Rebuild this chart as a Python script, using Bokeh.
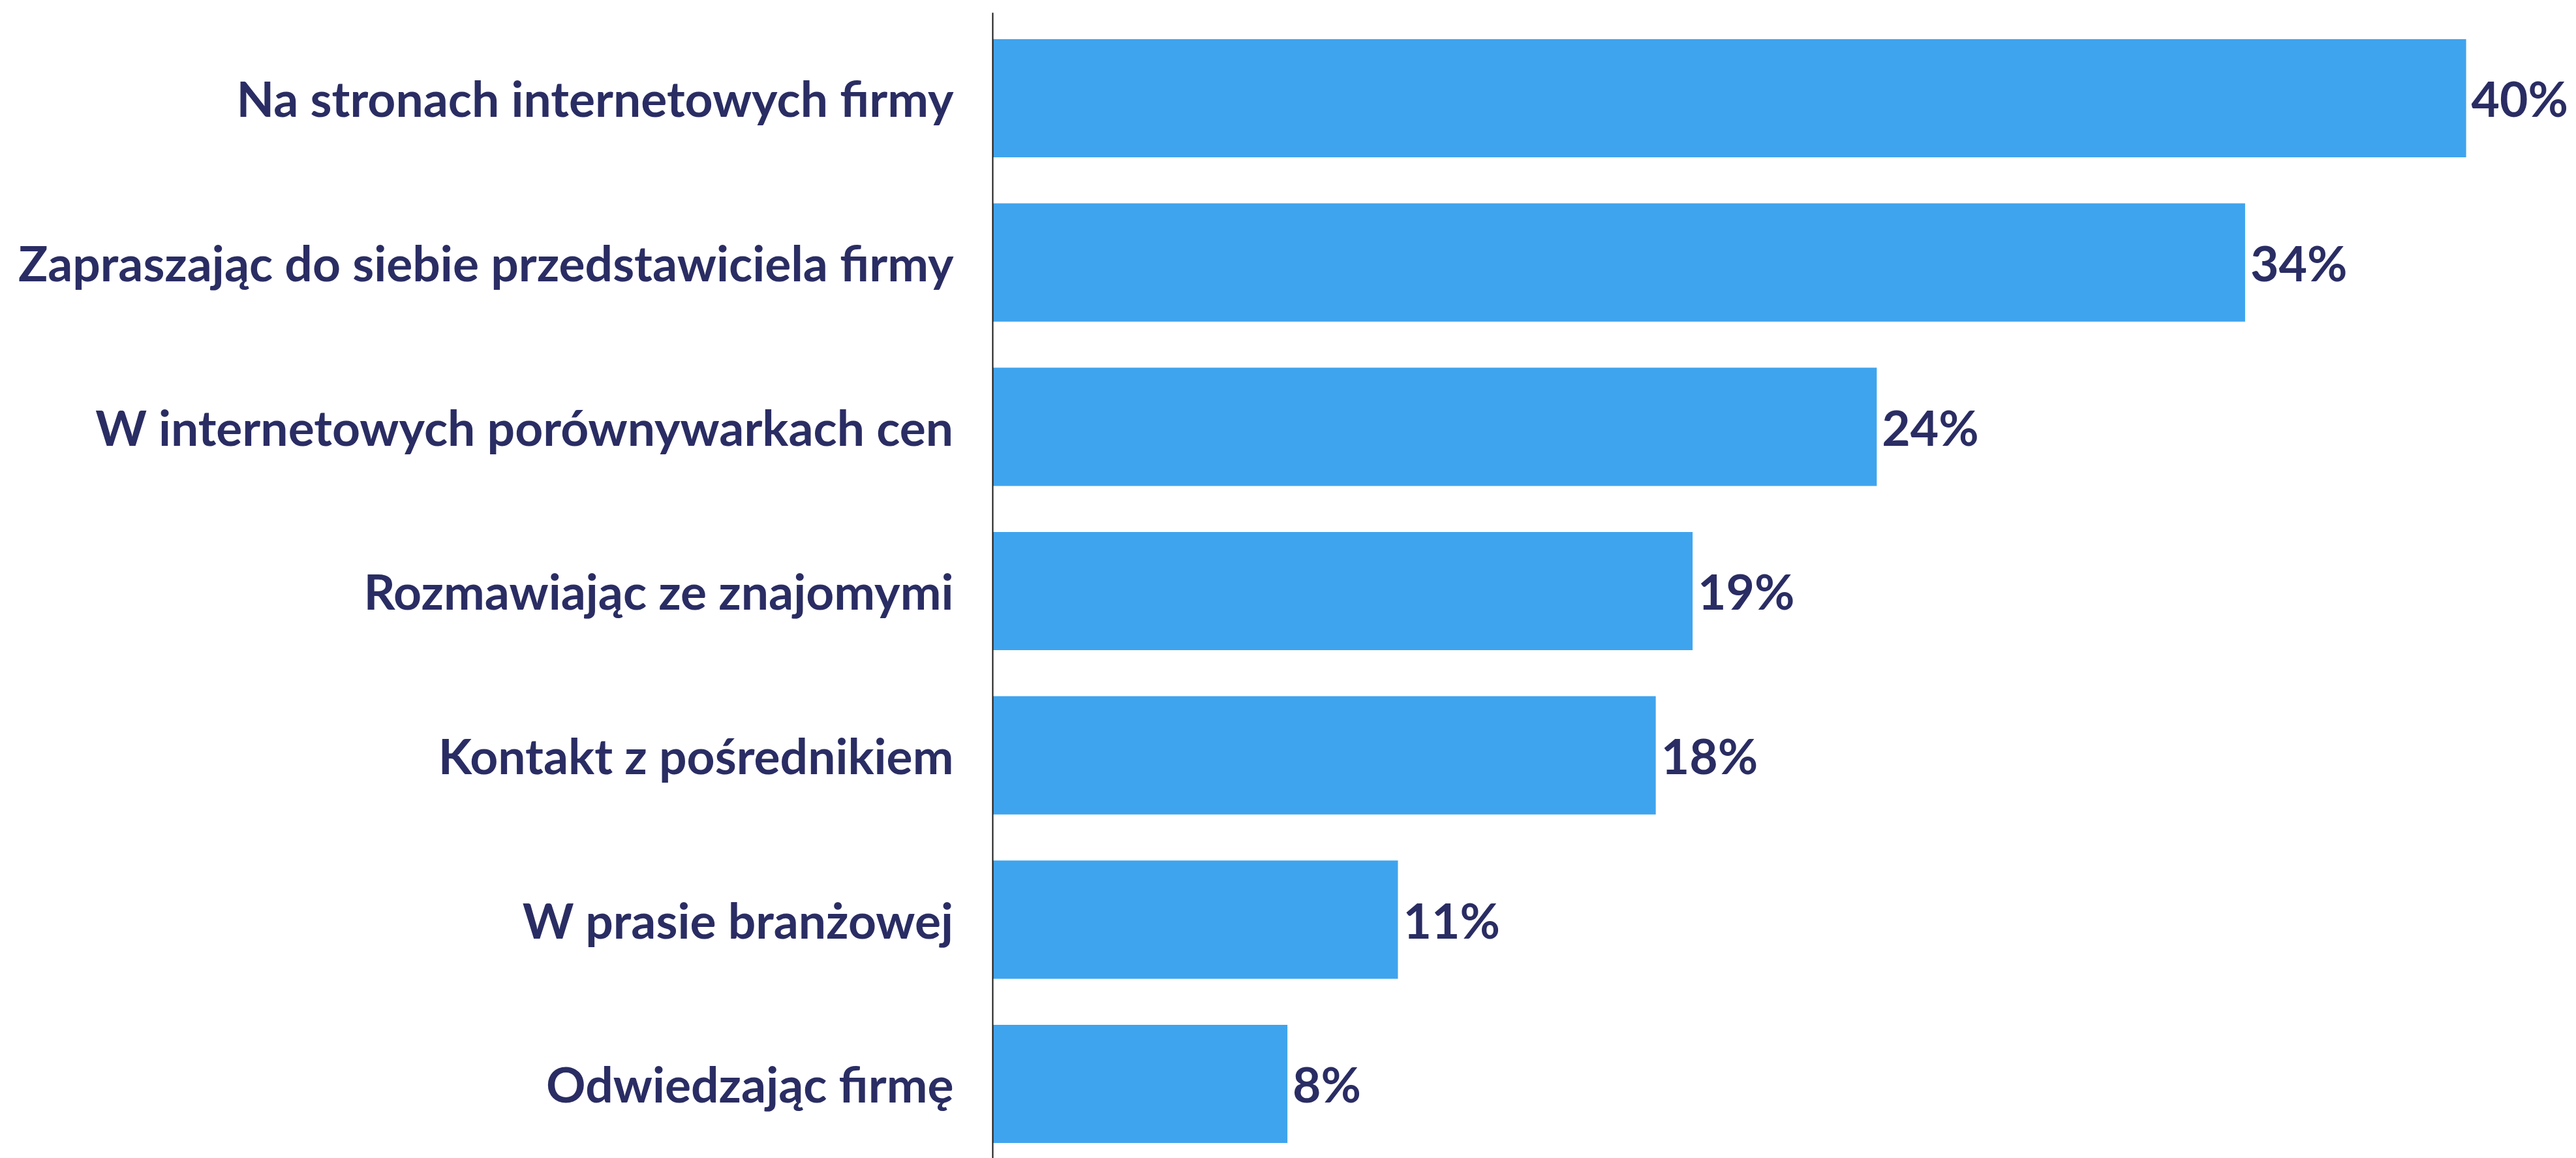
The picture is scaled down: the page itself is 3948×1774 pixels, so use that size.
from bokeh.plotting import figure
from bokeh.models import Range1d, FixedTicker, ColumnDataSource
from bokeh.core.properties import value
from bokeh.embed import file_html
from bokeh.resources import INLINE

categories = [
    "Na stronach internetowych firmy",
    "Zapraszając do siebie przedstawiciela firmy",
    "W internetowych porównywarkach cen",
    "Rozmawiając ze znajomymi",
    "Kontakt z pośrednikiem",
    "W prasie branżowej",
    "Odwiedzając firmę",
]
values = [40, 34, 24, 19, 18, 11, 8]
value_labels = ["40%", "34%", "24%", "19%", "18%", "11%", "8%"]

BAR_COLOR = "#3FA4EE"
TEXT_COLOR = "#2A2D63"
FONT = "Lato"

n = len(categories)
ypos = [n - 1 - i for i in range(n)]

src = ColumnDataSource(dict(y=ypos, v=values, lab=value_labels, cat=categories))

p = figure(
    width=3940, height=1774,
    output_backend="svg", toolbar_location=None,
    x_range=Range1d(0, 42.85), y_range=Range1d(-0.453, 6.5205),
    x_axis_location=None,
    min_border_left=1521, min_border_right=0,
    min_border_top=19, min_border_bottom=0,
    background_fill_color="white", border_fill_color="white",
)
p.outline_line_color = None
p.xgrid.grid_line_color = None
p.ygrid.grid_line_color = None

p.hbar(y="y", left=0, right="v", height=0.72, source=src,
       fill_color=BAR_COLOR, line_color=None)

p.text(x="v", y="y", text="lab", source=src, x_offset=8,
       text_align="left", text_baseline="middle",
       text_font=value(FONT), text_font_style="bold",
       text_font_size="75px", text_color=TEXT_COLOR)

ax = p.yaxis[0]
ax.ticker = FixedTicker(ticks=ypos)
ax.major_label_overrides = {y: c for y, c in zip(ypos, categories)}
ax.major_label_text_font = FONT
ax.major_label_text_font_style = "bold"
ax.major_label_text_font_size = "75px"
ax.major_label_text_color = TEXT_COLOR
ax.major_label_standoff = 60
ax.major_tick_line_color = None
ax.minor_tick_line_color = None
ax.major_tick_in = 0
ax.major_tick_out = 0
ax.axis_line_color = "#151515"
ax.axis_line_width = 2

open("out.html", "w").write(file_html(p, INLINE))
